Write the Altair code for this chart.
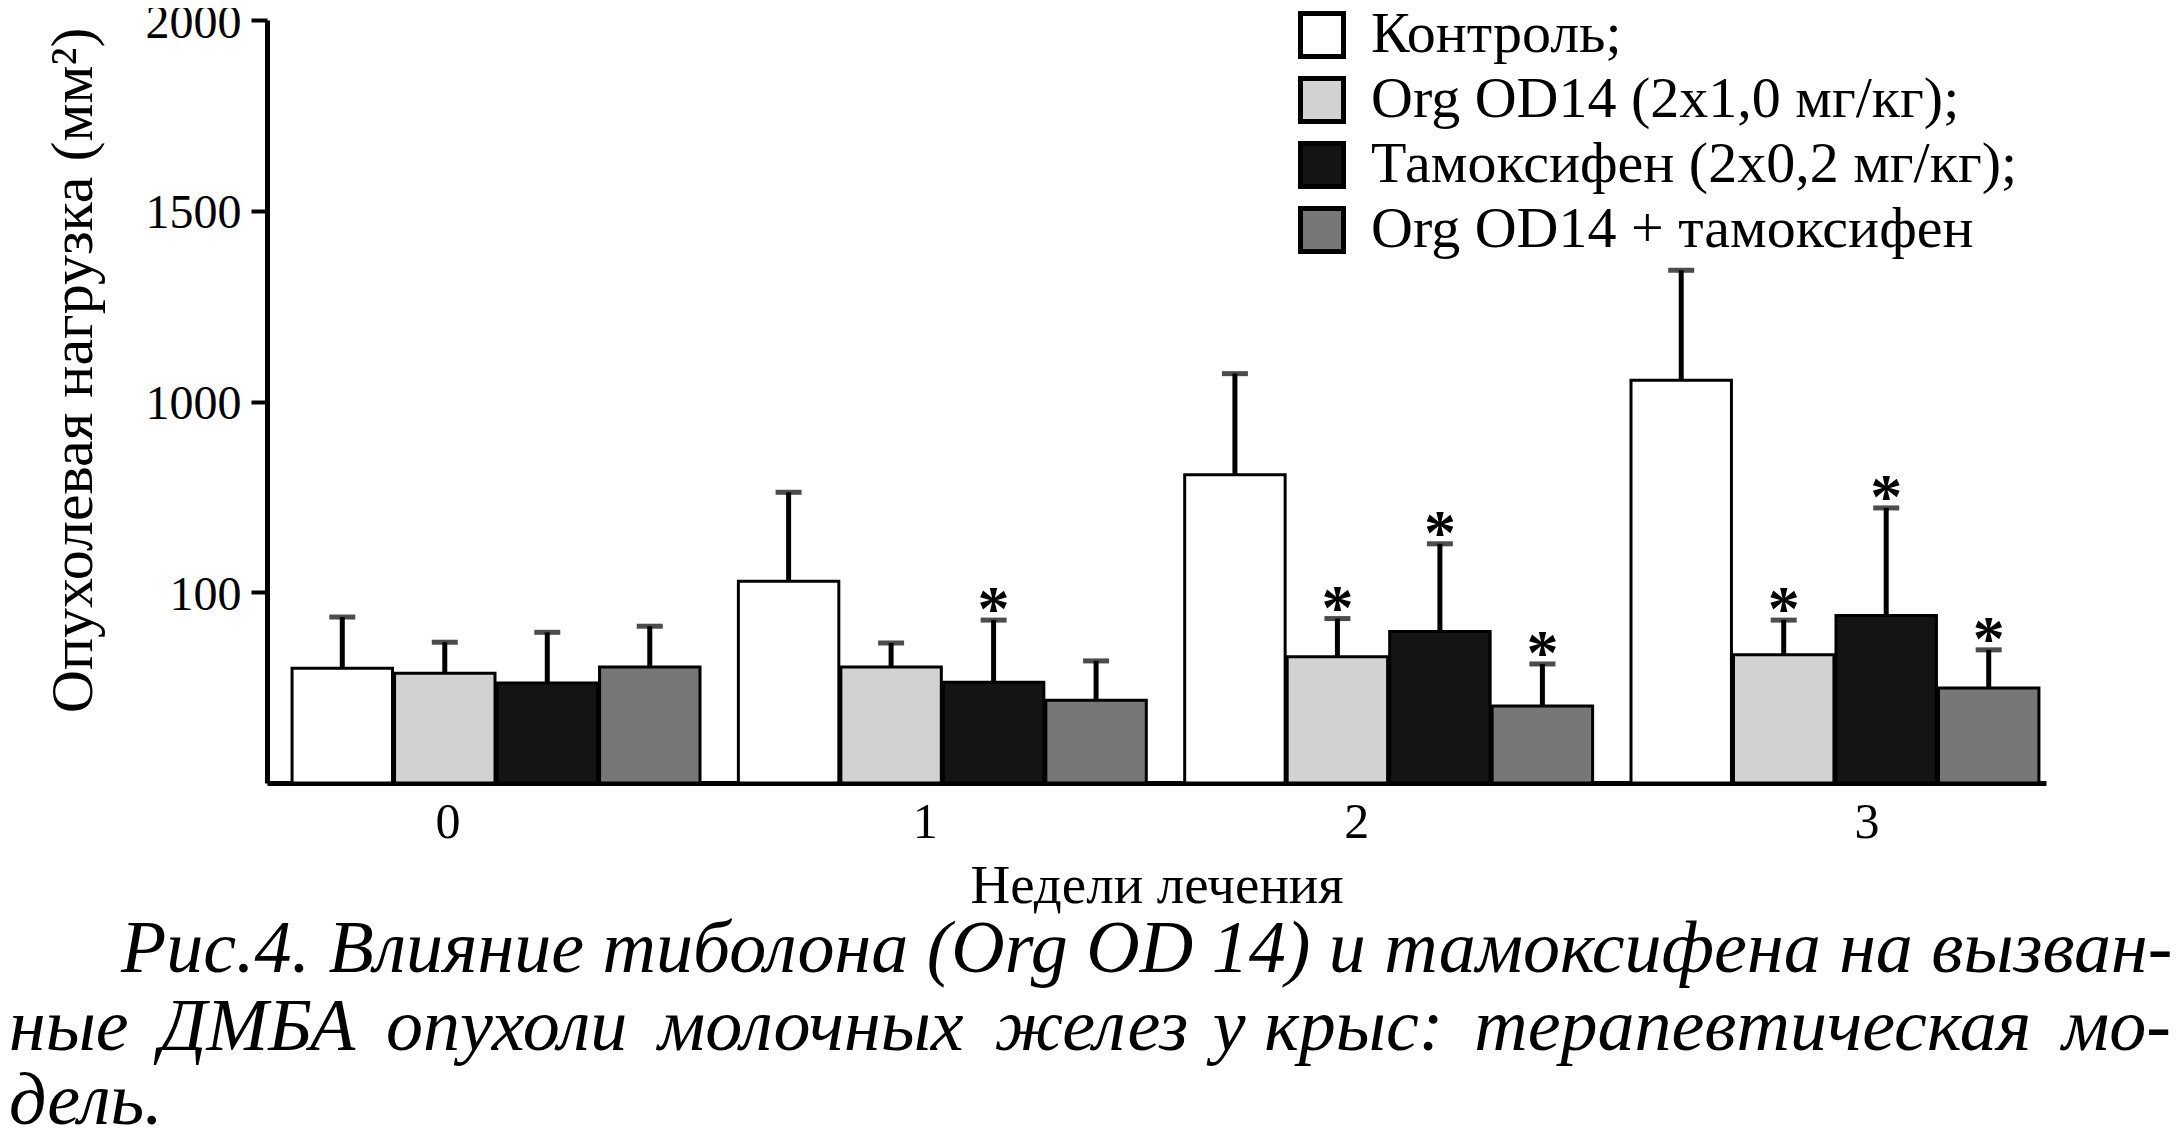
import altair as alt
import pandas as pd

# ---- data ----
weeks = ["0", "1", "2", "3"]
series = [
    "Контроль;",
    "Org OD14 (2x1,0 мг/кг);",
    "Тамоксифен (2x0,2 мг/кг);",
    "Org OD14 + тамоксифен",
]
control_mean = [301, 529, 808, 1056]
control_sd = [134, 233, 265, 288]
org_mean = [288, 304, 331, 336]
org_sd = [81, 63, 100, 91]
tam_mean = [262, 264, 397, 439]
tam_sd = [133, 163, 230, 282]
combo_mean = [304, 217, 202, 249]
combo_sd = [107, 103, 110, 100]
control_star = [0, 0, 0, 0]
org_star = [0, 0, 1, 1]
tam_star = [0, 1, 1, 1]
combo_star = [0, 0, 1, 1]

y_tick_values = [500, 1000, 1500, 2000]
y_tick_labels = ["100", "1000", "1500", "2000"]

colors = ["#ffffff", "#d2d2d2", "#141414", "#777777"]

x_title = "Недели лечения"
y_title = "Опухолевая нагрузка (мм²)"
caption_lines = [
    "Рис.4. Влияние тиболона (Org OD 14) и тамоксифена на вызван-",
    "ные ДМБА опухоли молочных желез у крыс: терапевтическая мо-",
    "дель.",
]

# ---- table ----
means = [control_mean, org_mean, tam_mean, combo_mean]
sds = [control_sd, org_sd, tam_sd, combo_sd]
stars = [control_star, org_star, tam_star, combo_star]
rows = []
for s, m_list, sd_list, st_list in zip(series, means, sds, stars):
    for w, m, sd, st in zip(weeks, m_list, sd_list, st_list):
        rows.append({"week": w, "series": s, "mean": m, "top": m + sd, "star": st})
df = pd.DataFrame(rows)

label_expr = "".join(
    f"datum.value == {v} ? '{l}' : " for v, l in zip(y_tick_values, y_tick_labels)
) + "datum.label"

SERIF = "Liberation Serif"

# the printed week labels sit slightly off the group centres
x_label_shift = {"0": -48, "1": -17, "2": -32, "3": 32}
x_label_offset = {
    "condition": [
        {"test": f"datum.value === '{k}'", "value": v} for k, v in x_label_shift.items()
    ],
    "value": 0,
}

xenc = alt.X(
    "week:N",
    sort=weeks,
    title=x_title,
    scale=alt.Scale(paddingInner=0.086, paddingOuter=0.036, align=0.78),
    axis=alt.Axis(
        labelAngle=0,
        labelFont=SERIF,
        labelFontSize=50,
        labelPadding=14,
        labelColor="black",
        labelOffset=x_label_offset,
        ticks=False,
        domainWidth=5,
        domainColor="black",
        grid=False,
        titleFont=SERIF,
        titleFontSize=55,
        titleFontWeight="normal",
        titleColor="black",
        titleY=119,
        titleBaseline="alphabetic",
    ),
)
xoff = alt.XOffset("series:N", sort=series, scale=alt.Scale(paddingInner=0.02))
yscale = alt.Scale(domain=[0, 2000], nice=False)
yenc = alt.Y(
    "mean:Q",
    scale=yscale,
    title=y_title,
    axis=alt.Axis(
        values=y_tick_values,
        labelExpr=label_expr,
        labelFont=SERIF,
        labelFontSize=48,
        labelColor="black",
        labelPadding=10,
        labelOffset=3,
        tickSize=16,
        tickWidth=4,
        tickColor="black",
        domainWidth=5,
        domainColor="black",
        grid=False,
        titleFont=SERIF,
        titleFontSize=60,
        titleFontWeight="normal",
        titleColor="black",
        titleX=-176,
        titleY=350,
        titleBaseline="alphabetic",
    ),
)

bars = alt.Chart(df).mark_bar(stroke="black", strokeWidth=3).encode(
    x=xenc,
    xOffset=xoff,
    y=yenc,
    color=alt.Color(
        "series:N",
        sort=series,
        scale=alt.Scale(domain=series, range=colors),
        legend=alt.Legend(
            orient="none",
            legendX=1026,
            legendY=-14,
            title=None,
            symbolType="square",
            symbolSize=1849,
            symbolStrokeWidth=5,
            symbolStrokeColor="black",
            symbolOpacity=1,
            labelFont=SERIF,
            labelFontSize=58,
            labelColor="black",
            labelOffset=20,
            labelLimit=0,
            rowPadding=1,
            padding=0,
        ),
    ),
)

stems = alt.Chart(df).mark_rule(strokeWidth=5, color="black").encode(
    x=xenc, xOffset=xoff, y=alt.Y("mean:Q", scale=yscale), y2="top:Q"
)
caps = alt.Chart(df).mark_tick(thickness=5, size=26, color="black").encode(
    x=xenc, xOffset=xoff, y=alt.Y("top:Q", scale=yscale)
)
star_marks = (
    alt.Chart(df)
    .transform_filter("datum.star == 1")
    .mark_text(text="*", font=SERIF, fontSize=64, fontWeight="bold",
               baseline="alphabetic", dy=10, color="black")
    .encode(x=xenc, xOffset=xoff, y=alt.Y("top:Q", scale=yscale))
)

# justified caption: the second line gets slightly wider word gaps
words2 = caption_lines[1].split(" ")
gaps2 = [" \u2006", " \u2006", " \u2006", " \u2006", " \u200a", " ", " \u2006", " \u2006"]
line2 = words2[0] + "".join(g + w for g, w in zip(gaps2, words2[1:]))
caption_text = [caption_lines[0], line2, caption_lines[2]]
cap_pos = [(-146, 952), (-258, 1030), (-258, 1104)]
caption_layers = []
for line, (px, py) in zip(caption_text, cap_pos):
    caption_layers.append(
        alt.Chart(pd.DataFrame({"t": [line]}))
        .mark_text(font=SERIF, fontStyle="italic", fontSize=74, align="left",
                   baseline="alphabetic", color="black")
        .encode(text="t:N", x=alt.value(px), y=alt.value(py))
    )

chart = (
    alt.layer(bars, stems, caps, star_marks, *caption_layers)
    .properties(
        width=1779,
        height=763,
        padding={"left": 259, "top": 12, "right": 128, "bottom": 353},
        autosize=alt.AutoSizeParams(type="none"),
        background="white",
    )
    .configure_view(stroke=None)
)

chart.save("out.html", embed_options={"renderer": "svg", "actions": False})
